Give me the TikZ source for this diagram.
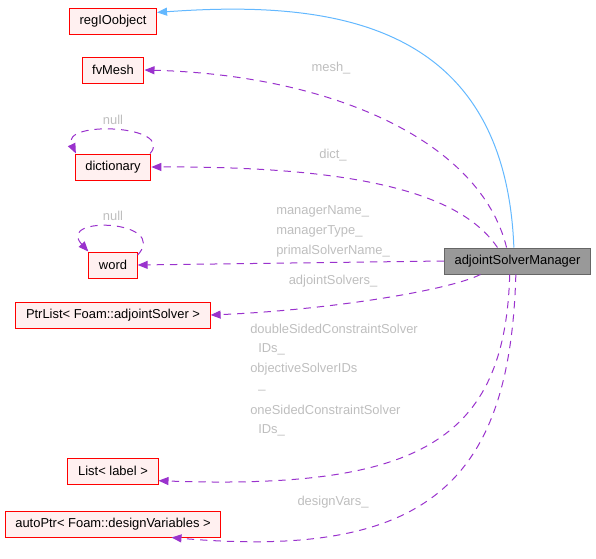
\documentclass[tikz,border=0pt]{standalone}
\usepackage{fontspec}
\setmainfont{Liberation Sans}
\usetikzlibrary{arrows.meta}
\definecolor{edgepurple}{RGB}{154,50,205}
\definecolor{inhblue}{RGB}{99,184,255}
\definecolor{lblgrey}{RGB}{190,190,190}
\definecolor{boxfill}{RGB}{255,240,240}
\definecolor{mgrfill}{RGB}{153,153,153}
\definecolor{mgrdraw}{RGB}{102,102,102}
\tikzset{
  classbox/.style={draw=red, fill=boxfill, line width=0.75pt, minimum height=19.5pt,
    inner xsep=7.6pt, inner ysep=0pt, font=\fontsize{9.7pt}{11pt}\selectfont},
  mainbox/.style={classbox, draw=mgrdraw, fill=mgrfill},
  member/.style={draw=edgepurple, line width=0.75pt, dash pattern=on 5.5pt off 4.5pt,
    -{Triangle[length=7.5pt,width=6pt]}},
  inherit/.style={draw=inhblue, line width=0.75pt, -{Triangle[length=7.5pt,width=6pt]}},
  lbl/.style={text=lblgrey, inner sep=0.75pt, font=\fontsize{9.7pt}{11pt}\selectfont},
}
\begin{document}
\begin{tikzpicture}[x=0.75pt,y=-0.75pt]
\useasboundingbox (0,0) rectangle (596,558);

% Class nodes
\node[classbox] (regio) at (113,21) {regIOobject};
\node[classbox] (fvmesh) at (113,70) {fvMesh};
\node[classbox] (dict) at (113,167) {dictionary};
\node[classbox] (word) at (113,265) {word};
\node[classbox] (ptrlist) at (113,315) {PtrList< Foam::adjointSolver >};
\node[classbox] (listlabel) at (113,471) {List< label >};
\node[classbox] (autoptr) at (113,524) {autoPtr< Foam::designVariables >};
\node[mainbox] (mgr) at (517.5,261) {adjointSolverManager};

% Inheritance
\draw[inherit] (mgr.105) .. controls (505,20) and (330,0) .. (regio.11);

% Members
\draw[member] (mgr.129) .. controls (480,140) and (330,75) .. (fvmesh.east);
\draw[member] (mgr.146) .. controls (465,200) and (380,166) .. (dict.east);
\draw[member] (mgr.west) -- (word.east);
\draw[member] (mgr.200) .. controls (450,290) and (330,310) .. (ptrlist.east);
\draw[member] (mgr.240) .. controls (505,440) and (420,490) .. (listlabel.-12);
\draw[member] (mgr.263) .. controls (510,480) and (430,560) .. (autoptr.-13.5);

% Self loops
\draw[member] (dict.20) .. controls (175,125) and (60,120) .. (dict.160);
\draw[member] (word.22) .. controls (170,220) and (55,215) .. (word.north west);

% Edge labels
\node[lbl] (meshlbl) at (331,68) {mesh\_};
\node[lbl] (dictlbl) at (333,155) {dict\_};
\node[lbl] (dictnull) at (113,120) {null};
\node[lbl] (wordnull) at (113,216) {null};
\node[lbl, anchor=west] (namelbl) at (275,211) {managerName\_};
\node[lbl, anchor=west] (typelbl) at (275,231) {managerType\_};
\node[lbl, anchor=west] (primallbl) at (275,251) {primalSolverName\_};
\node[lbl] (solverslbl) at (333,281) {adjointSolvers\_};
\node[lbl, anchor=west] (dsclbl) at (249,329) {doubleSidedConstraintSolver};
\node[lbl, anchor=west] (dscids) at (257,349) {IDs\_};
\node[lbl, anchor=west] (objlbl) at (249,369) {objectiveSolverIDs};
\node[lbl, anchor=west] (objus) at (257,390) {\_};
\node[lbl, anchor=west] (osclbl) at (249,410) {oneSidedConstraintSolver};
\node[lbl, anchor=west] (oscids) at (257,430) {IDs\_};
\node[lbl] (designlbl) at (333,502) {designVars\_};
\end{tikzpicture}
\end{document}
